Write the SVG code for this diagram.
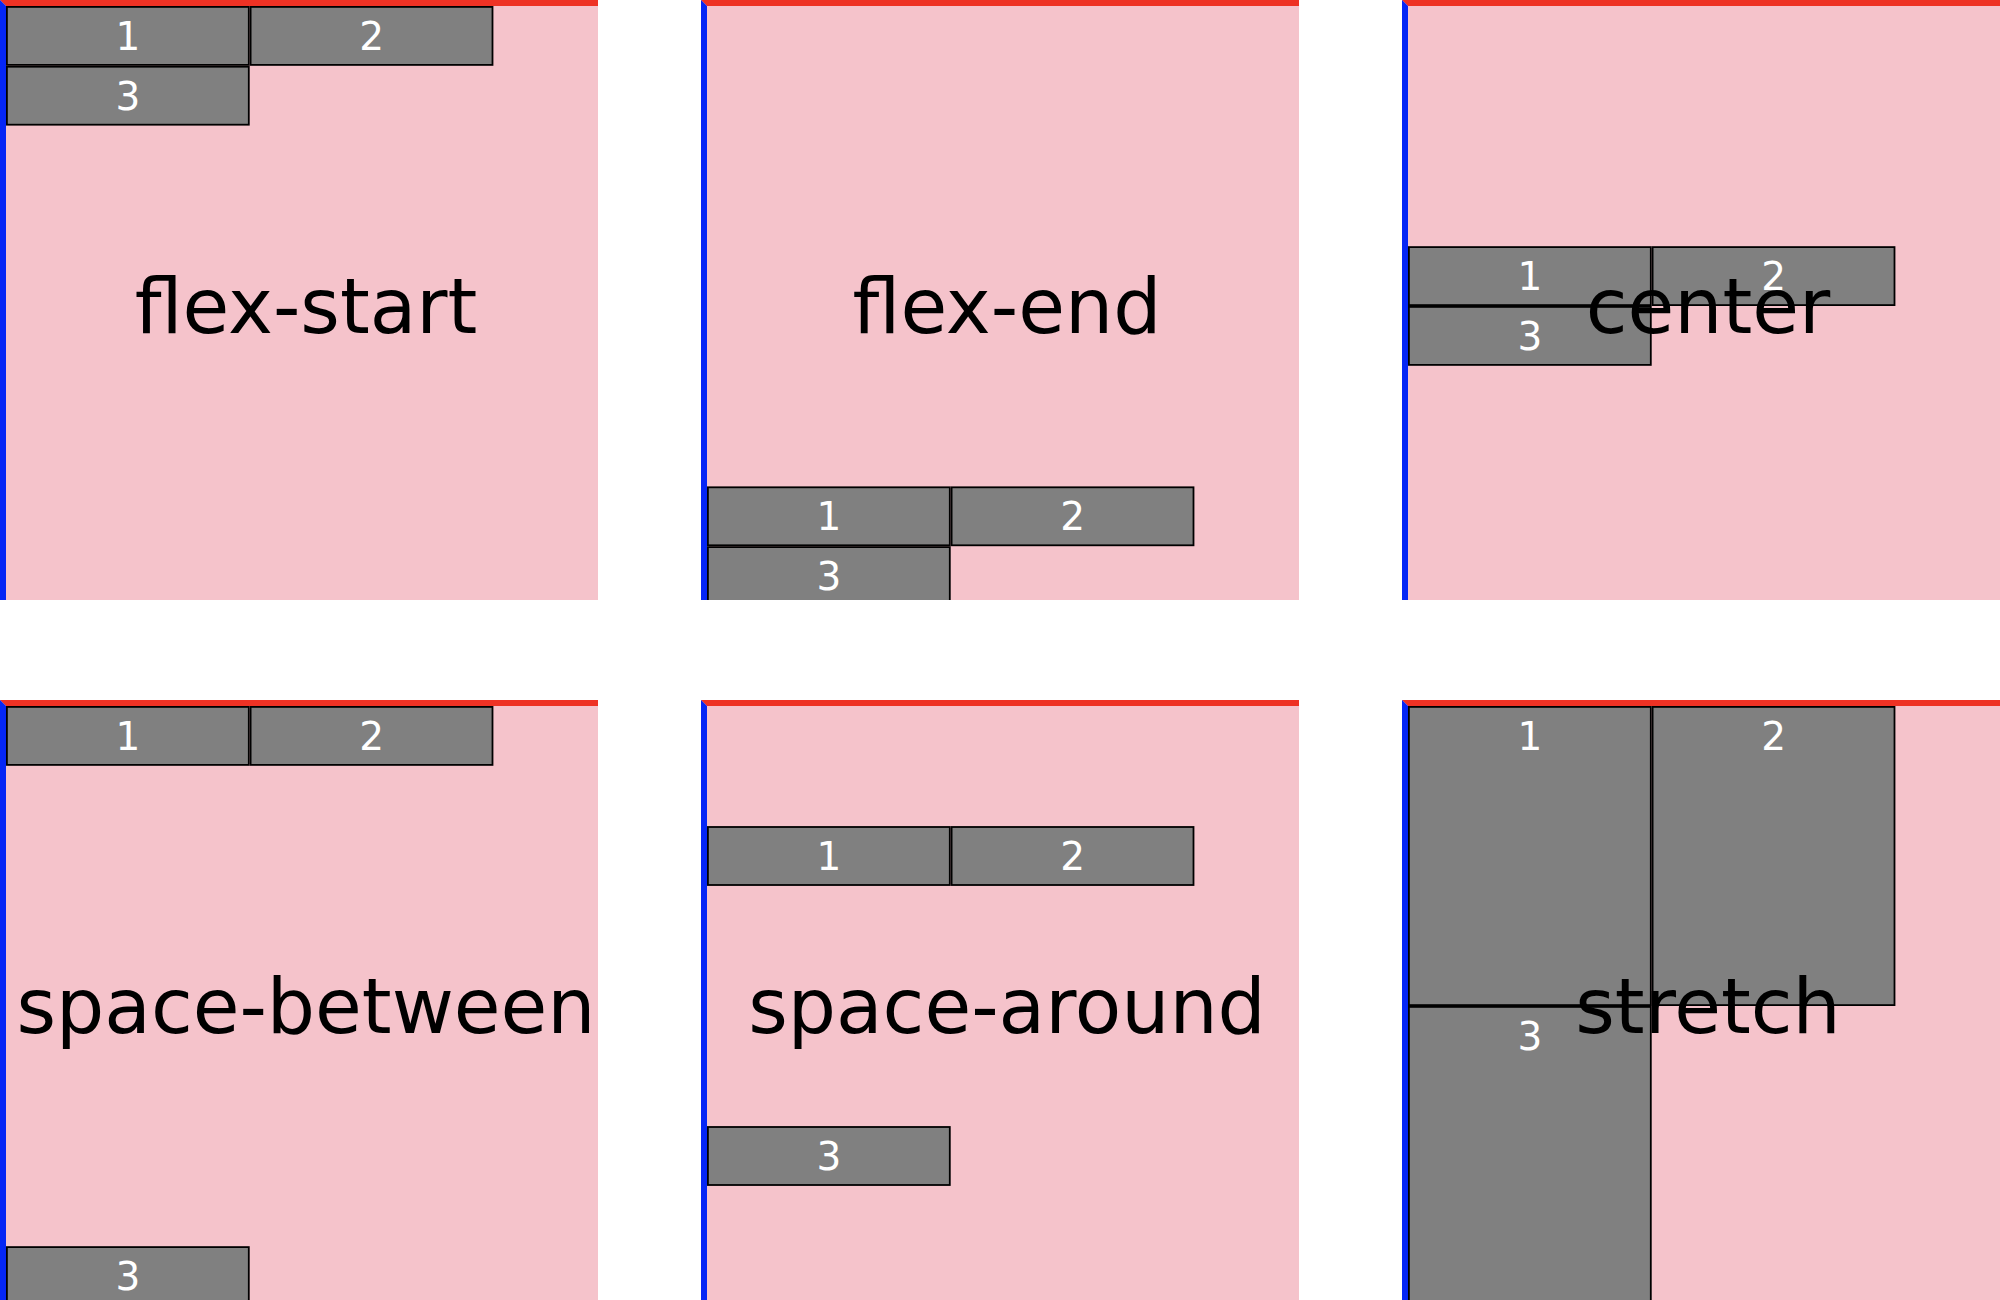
<svg xmlns="http://www.w3.org/2000/svg" width="2000" height="1300" viewBox="0 0 2000 1300">
<style>
.bg{fill:#F5C3CB}
.bt{fill:#EE3224}
.bl{fill:#0526F5}
.box{fill:#808080;stroke:#000;stroke-width:1.8}
.num{fill:#fff;font-family:"DejaVu Sans",sans-serif;font-size:39px;text-anchor:middle}
.lab{fill:#000;font-family:"DejaVu Sans",sans-serif;font-size:76px;text-anchor:middle}
</style>
<defs>
<clipPath id="clip"><rect x="0" y="0" width="598" height="600"/></clipPath>
<g id="frame">
<rect class="bg" x="0" y="0" width="598" height="600"/>
<polygon class="bt" points="0,0 598,0 598,6 6,6"/>
<polygon class="bl" points="0,0 6,6 6,600 0,600"/>
</g>
</defs>
<rect x="0" y="0" width="2000" height="1300" fill="#fff"/>

<g id="flex-start" transform="translate(0,0)" clip-path="url(#clip)">
<use href="#frame"/>
<rect class="box" x="6.9" y="6.9" width="241.9" height="58"/>
<text class="num" x="127.9" y="50">1</text>
<rect class="box" x="250.6" y="6.9" width="241.9" height="58"/>
<text class="num" x="371.6" y="50">2</text>
<rect class="box" x="6.9" y="66.7" width="241.9" height="58"/>
<text class="num" x="127.9" y="109.8">3</text>
<text class="lab" x="306" y="333.3">flex-start</text>
</g>

<g id="flex-end" transform="translate(701,0)" clip-path="url(#clip)">
<use href="#frame"/>
<rect class="box" x="6.9" y="487.3" width="241.9" height="58"/>
<text class="num" x="127.9" y="530.4">1</text>
<rect class="box" x="250.6" y="487.3" width="241.9" height="58"/>
<text class="num" x="371.6" y="530.4">2</text>
<rect class="box" x="6.9" y="547.1" width="241.9" height="58"/>
<text class="num" x="127.9" y="590.2">3</text>
<text class="lab" x="306" y="333.3">flex-end</text>
</g>

<g id="center" transform="translate(1402,0)" clip-path="url(#clip)">
<use href="#frame"/>
<rect class="box" x="6.9" y="247.1" width="241.9" height="58"/>
<text class="num" x="127.9" y="290.2">1</text>
<rect class="box" x="250.6" y="247.1" width="241.9" height="58"/>
<text class="num" x="371.6" y="290.2">2</text>
<rect class="box" x="6.9" y="306.9" width="241.9" height="58"/>
<text class="num" x="127.9" y="350">3</text>
<text class="lab" x="306" y="333.3">center</text>
</g>

<g id="space-between" transform="translate(0,700)" clip-path="url(#clip)">
<use href="#frame"/>
<rect class="box" x="6.9" y="6.9" width="241.9" height="58"/>
<text class="num" x="127.9" y="50">1</text>
<rect class="box" x="250.6" y="6.9" width="241.9" height="58"/>
<text class="num" x="371.6" y="50">2</text>
<rect class="box" x="6.9" y="547.1" width="241.9" height="58"/>
<text class="num" x="127.9" y="590.2">3</text>
<text class="lab" x="306" y="333.3">space-between</text>
</g>

<g id="space-around" transform="translate(701,700)" clip-path="url(#clip)">
<use href="#frame"/>
<rect class="box" x="6.9" y="127" width="241.9" height="58"/>
<text class="num" x="127.9" y="170.1">1</text>
<rect class="box" x="250.6" y="127" width="241.9" height="58"/>
<text class="num" x="371.6" y="170.1">2</text>
<rect class="box" x="6.9" y="427" width="241.9" height="58"/>
<text class="num" x="127.9" y="470.1">3</text>
<text class="lab" x="306" y="333.3">space-around</text>
</g>

<g id="stretch" transform="translate(1402,700)" clip-path="url(#clip)">
<use href="#frame"/>
<rect class="box" x="6.9" y="6.9" width="241.9" height="298.2"/>
<text class="num" x="127.9" y="50">1</text>
<rect class="box" x="250.6" y="6.9" width="241.9" height="298.2"/>
<text class="num" x="371.6" y="50">2</text>
<rect class="box" x="6.9" y="306.9" width="241.9" height="298.2"/>
<text class="num" x="127.9" y="350">3</text>
<text class="lab" x="306" y="333.3">stretch</text>
</g>
</svg>
